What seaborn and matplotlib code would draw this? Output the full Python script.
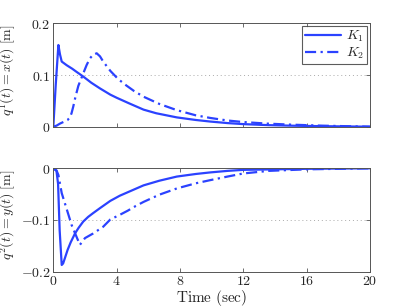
import numpy as np
import pandas as pd
import matplotlib
matplotlib.use("Agg")
import matplotlib.pyplot as plt
import seaborn as sns

# ---- data ----
t_k1_x = [0, 0.15, 0.32, 0.42, 0.53, 0.84, 1.2, 1.47, 1.89, 2.4, 2.95, 3.6, 4.0, 4.8, 5.7, 6.5, 7.8, 9.0, 9.9, 11.0, 12.0, 13.6, 15.0, 17.0, 20.0]
k1_x   = [0, 0.08, 0.158, 0.14, 0.126, 0.119, 0.112, 0.106, 0.097, 0.085, 0.074, 0.062, 0.056, 0.045, 0.033, 0.026, 0.018, 0.013, 0.010, 0.007, 0.005, 0.003, 0.002, 0.001, 0.0]
t_k2_x = [0, 0.2, 0.42, 0.7, 0.9, 1.05, 1.15, 1.26, 1.4, 1.58, 1.89, 2.1, 2.31, 2.5, 2.74, 2.95, 3.15, 3.6, 4.1, 4.6, 5.1, 5.7, 6.7, 7.8, 9.0, 9.9, 11.0, 12.0, 13.5, 15.0, 17.0, 20.0]
k2_x   = [0, 0.002, 0.006, 0.010, 0.013, 0.018, 0.026, 0.039, 0.058, 0.079, 0.103, 0.119, 0.132, 0.139, 0.142, 0.136, 0.126, 0.108, 0.092, 0.080, 0.069, 0.058, 0.044, 0.032, 0.022, 0.017, 0.012, 0.009, 0.006, 0.004, 0.002, 0.0]
t_k1_y = [0, 0.2, 0.3, 0.4, 0.53, 0.62, 0.75, 0.9, 1.1, 1.37, 1.6, 1.89, 2.2, 2.5, 2.95, 3.6, 4.2, 4.8, 5.7, 6.7, 7.8, 9.0, 9.9, 11.0, 12.0, 14.0, 16.0, 20.0]
k1_y   = [0, -0.005, -0.03, -0.12, -0.187, -0.184, -0.172, -0.158, -0.143, -0.126, -0.115, -0.103, -0.094, -0.087, -0.077, -0.063, -0.053, -0.045, -0.033, -0.024, -0.016, -0.011, -0.008, -0.005, -0.003, -0.002, -0.001, 0.0]
t_k2_y = [0, 0.2, 0.32, 0.53, 1.16, 1.5, 1.68, 2.0, 2.52, 3.15, 3.6, 4.2, 4.7, 5.2, 5.7, 6.7, 7.8, 9.0, 9.9, 11.0, 12.0, 13.6, 16.0, 20.0]
k2_y   = [0, -0.004, -0.013, -0.048, -0.110, -0.135, -0.148, -0.135, -0.126, -0.113, -0.099, -0.090, -0.082, -0.073, -0.065, -0.051, -0.039, -0.029, -0.023, -0.016, -0.010, -0.005, -0.002, 0.0]

xticks = [0, 4, 8, 12, 16, 20]
xtick_labels = ["$0$", "$4$", "$8$", "$12$", "$16$", "$20$"]
yticks_top = [0, 0.1, 0.2]
ytick_labels_top = ["$0$", "$0.1$", "$0.2$"]
yticks_bot = [-0.2, -0.1, 0]
ytick_labels_bot = ["$-0.2$", "$-0.1$", "$0$"]
labels = ["$K_1$", "$K_2$"]

sns.set_style("ticks")
plt.rcParams["mathtext.fontset"] = "cm"
plt.rcParams["font.family"] = ["DejaVu Serif"]

color = "#2b42ff"
fig = plt.figure(figsize=(4.08, 3.07), dpi=100)
ax1 = fig.add_axes([0.1307, 0.5873, 0.776, 0.3368])
ax2 = fig.add_axes([0.1307, 0.115, 0.776, 0.3368])

def draw(ax, t1, v1, t2, v2):
    d1 = pd.DataFrame({"t": t1, "v": v1})
    d2 = pd.DataFrame({"t": t2, "v": v2})
    sns.lineplot(data=d1, x="t", y="v", ax=ax, color=color, lw=1.6, label=labels[0])
    sns.lineplot(data=d2, x="t", y="v", ax=ax, color=color, lw=1.6, ls=(0, (5, 2, 1, 2)), label=labels[1])

draw(ax1, t_k1_x, k1_x, t_k2_x, k2_x)
draw(ax2, t_k1_y, k1_y, t_k2_y, k2_y)

for ax, yt, ytl in [(ax1, yticks_top, ytick_labels_top), (ax2, yticks_bot, ytick_labels_bot)]:
    ax.set_xlim(0, 20)
    ax.set_ylim(min(yt), max(yt))
    ax.set_xticks(xticks)
    ax.set_yticks(yt)
    ax.set_yticklabels(ytl, fontsize=10)
    ax.tick_params(direction="in", top=True, right=True, length=3, color="#555555", width=0.6, pad=2)
    for s in ax.spines.values():
        s.set_color("#555555")
        s.set_linewidth(0.7)
    ax.axhline(0.1 if ax is ax1 else -0.1, color="#aaaaaa", lw=0.7, ls=(0, (1, 3)), zorder=0)

ax1.set_xticklabels([])
ax2.set_xticklabels(xtick_labels, fontsize=10)
ax1.set_xlabel("")
ax2.set_xlabel(r"$\mathrm{Time\ (sec)}$", fontsize=11, labelpad=0)
ax1.set_ylabel(r"$q^1(t) = x(t)\ [\mathrm{m}]$", fontsize=10)
ax2.set_ylabel(r"$q^2(t) = y(t)\ [\mathrm{m}]$", fontsize=10)
ax1.yaxis.set_label_coords(-0.111, 0.55)
ax2.yaxis.set_label_coords(-0.111, 0.55)

leg = ax1.legend(loc="upper right", fontsize=10, frameon=True, fancybox=False,
                 edgecolor="#333333", handlelength=2.6, borderpad=0.2,
                 labelspacing=0.1, borderaxespad=0.2, handletextpad=0.4)
leg.get_frame().set_linewidth(0.8)
ax2.get_legend().remove()

fig.savefig("out.png", dpi=100)
